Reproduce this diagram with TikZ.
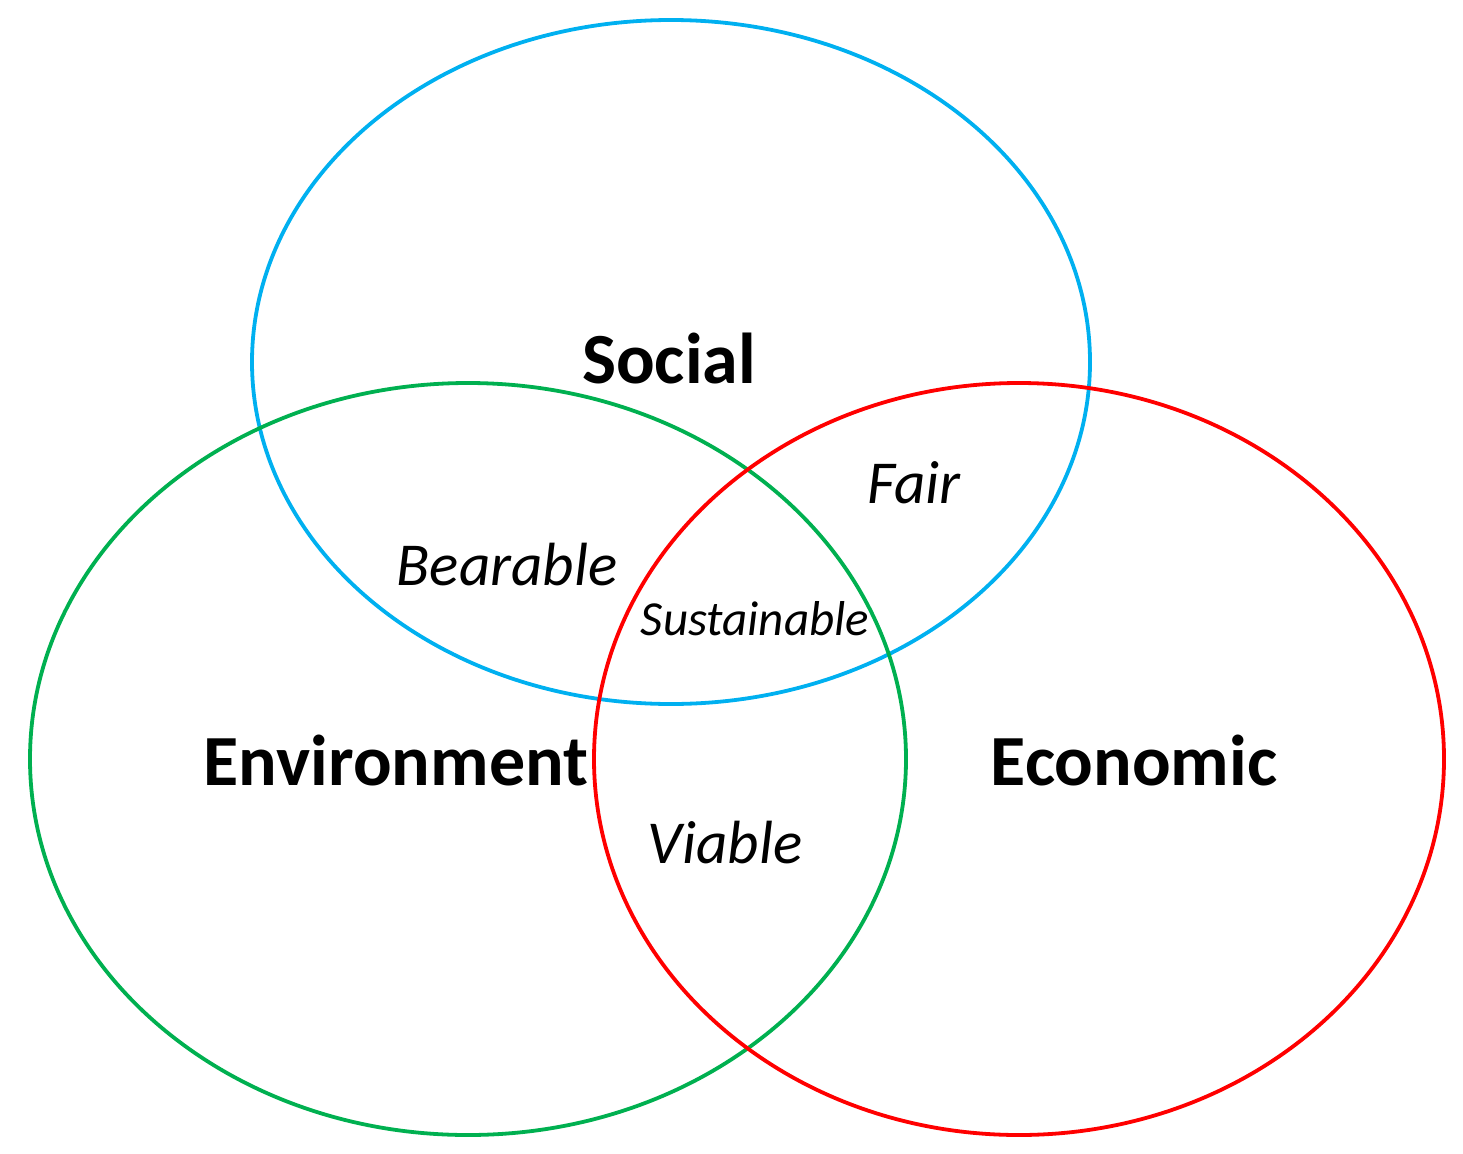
\documentclass[tikz,border=0pt]{standalone}
\usepackage{fontspec}
\setmainfont{Carlito}
\definecolor{socblue}{RGB}{0,176,240}
\definecolor{envgreen}{RGB}{0,176,80}
\definecolor{ecored}{RGB}{255,0,0}
\begin{document}
\begin{tikzpicture}[x=1pt,y=-1pt,
  ring/.style={line width=3.8pt},
  main/.style={font=\fontsize{72}{84}\selectfont\bfseries, anchor=base, inner sep=0pt},
  pair/.style={font=\fontsize{61}{72}\selectfont\itshape, anchor=base, inner sep=0pt},
  centre/.style={font=\fontsize{49}{58}\selectfont\itshape, anchor=base, inner sep=0pt}]
\useasboundingbox (0,0) rectangle (1463,1153);
\draw[ring, socblue] (671,362) ellipse [x radius=419, y radius=342];
\draw[ring, envgreen] (468,759) ellipse [x radius=438, y radius=376];
\draw[ring, ecored] (1019,759) ellipse [x radius=425, y radius=376];
\node[main] (social) at (669,383) {Social};
\node[main] (env) at (396,785) {Environment};
\node[main] (eco) at (1134,785) {Economic};
\node[pair] (fair) at (914,503) {Fair};
\node[pair] (bear) at (507,585) {Bearable};
\node[pair] (viab) at (725,863) {Viable};
\node[centre] (sust) at (755,635) {Sustainable};
\end{tikzpicture}
\end{document}
